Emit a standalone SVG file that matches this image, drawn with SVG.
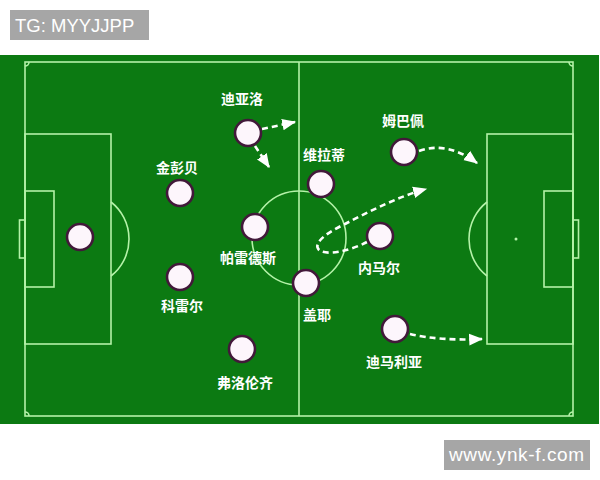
<svg xmlns="http://www.w3.org/2000/svg" width="600" height="480" viewBox="0 0 600 480">
  <style>
    .line { fill: none; stroke: #b4f2a8; stroke-width: 1.6; }
    .player circle { fill: #fdf6fc; stroke: #42193a; stroke-width: 2.6; }
    .lbl { font-family: "Noto Sans CJK SC", "Noto Sans", sans-serif; font-size: 14px; font-weight: bold; fill: #ffffff; text-anchor: middle; }
    .run { fill: none; stroke: #ffffff; stroke-width: 2.6; stroke-dasharray: 6 4; }
    .wm { font-family: "Liberation Sans", Arial, sans-serif; fill: #ffffff; }
  </style>
  <defs>
    <marker id="ah" markerUnits="userSpaceOnUse" markerWidth="14" markerHeight="14" viewBox="0 0 12 12" refX="11" refY="6" orient="auto">
      <path d="M0,1 L12,6 L0,11 Z" fill="#ffffff"/>
    </marker>
  </defs>
  <rect x="0" y="0" width="600" height="480" fill="#ffffff"/>

  <!-- watermark top -->
  <rect x="10" y="10" width="139" height="30" fill="#a6a6a6"/>
  <text class="wm" x="15" y="32" font-size="18.5">TG: MYYJJPP</text>

  <!-- pitch -->
  <g id="pitch">
    <rect x="0" y="55" width="599" height="369" fill="#0c7a12"/>
    <rect class="line" x="25" y="62" width="548" height="354"/>
    <line class="line" x1="299" y1="62" x2="299" y2="416"/>
    <circle class="line" cx="299" cy="238" r="47"/>
    <rect class="line" x="25" y="134" width="86" height="210"/>
    <rect class="line" x="25" y="191" width="29" height="96"/>
    <rect class="line" x="19.5" y="220" width="5.5" height="38"/>
    <path class="line" d="M111,202 A47,47 0 0 1 111,276"/>
    <rect class="line" x="487" y="134" width="86" height="210"/>
    <rect class="line" x="544" y="191" width="29" height="96"/>
    <rect class="line" x="573" y="220" width="5.5" height="38"/>
    <path class="line" d="M487,202 A47,47 0 0 0 487,276"/>
    <circle cx="516" cy="239" r="1.5" fill="#b4f2a8"/>
    <path class="line" d="M25,66 A4,4 0 0 0 29,62"/>
    <path class="line" d="M569,62 A4,4 0 0 0 573,66"/>
    <path class="line" d="M25,412 A4,4 0 0 1 29,416"/>
    <path class="line" d="M569,416 A4,4 0 0 1 573,412"/>
  </g>

  <!-- connectors -->
  <g id="runs">
    <path class="run" d="M262,129 L295,122" marker-end="url(#ah)"/>
    <path class="run" d="M255,146 L269,167" marker-end="url(#ah)"/>
    <path class="run" d="M419,151 Q447,141 477,163" marker-end="url(#ah)"/>
    <path class="run" d="M367,242 C350,251 326,256 319,250 C312,243 328,232 345,224 C370,211 400,196 426,189" marker-end="url(#ah)"/>
    <path class="run" d="M410,334 Q440,341 482,339" marker-end="url(#ah)"/>
  </g>

  <!-- players -->
  <g id="gk" class="player"><circle cx="80" cy="237" r="13"/></g>
  <g id="diallo" class="player"><circle cx="248" cy="133" r="13"/><text class="lbl" x="242" y="104">迪亚洛</text></g>
  <g id="kimpembe" class="player"><circle cx="180" cy="193" r="13"/><text class="lbl" x="177" y="173">金彭贝</text></g>
  <g id="paredes" class="player"><circle cx="255" cy="227" r="13"/><text class="lbl" x="248" y="263">帕雷德斯</text></g>
  <g id="kehrer" class="player"><circle cx="180" cy="277" r="13"/><text class="lbl" x="182" y="311">科雷尔</text></g>
  <g id="florenzi" class="player"><circle cx="242" cy="349" r="13"/><text class="lbl" x="245" y="388">弗洛伦齐</text></g>
  <g id="verratti" class="player"><circle cx="321" cy="184" r="13"/><text class="lbl" x="324" y="160">维拉蒂</text></g>
  <g id="gueye" class="player"><circle cx="306" cy="283" r="13"/><text class="lbl" x="317" y="320">盖耶</text></g>
  <g id="neymar" class="player"><circle cx="380" cy="236" r="13"/><text class="lbl" x="379" y="273">内马尔</text></g>
  <g id="mbappe" class="player"><circle cx="404" cy="152" r="13"/><text class="lbl" x="403" y="126">姆巴佩</text></g>
  <g id="dimaria" class="player"><circle cx="395" cy="329" r="13"/><text class="lbl" x="394" y="367">迪马利亚</text></g>

  <!-- watermark bottom -->
  <rect x="444" y="440" width="146" height="30" fill="#a6a6a6"/>
  <text class="wm" x="449" y="461" font-size="19" textLength="135" lengthAdjust="spacing">www.ynk-f.com</text>
</svg>
